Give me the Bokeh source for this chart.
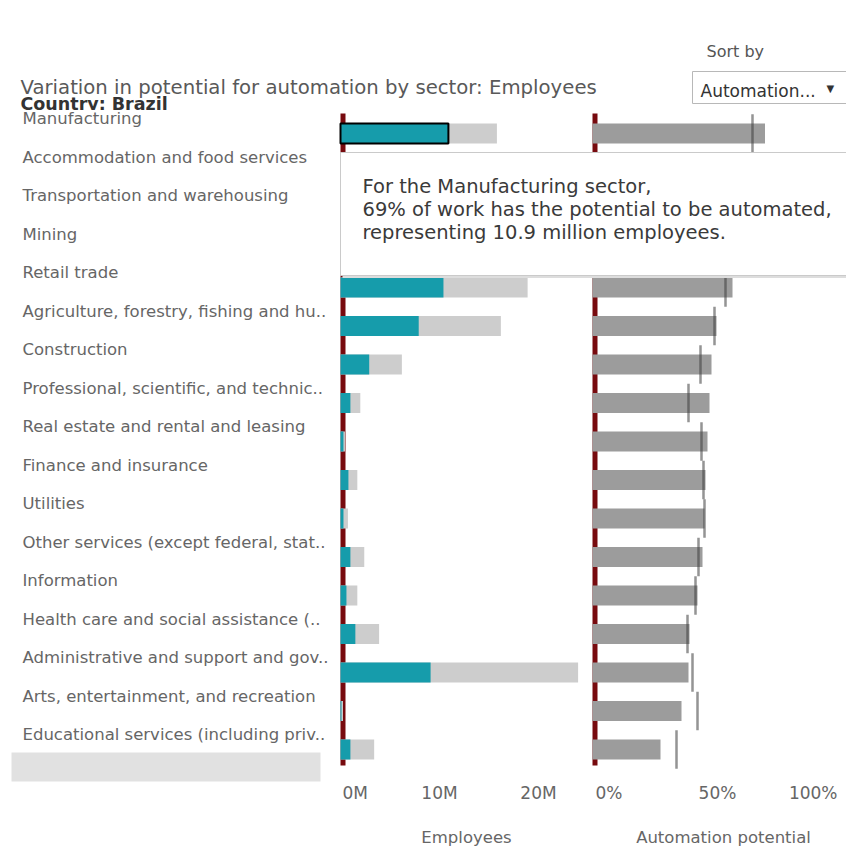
from bokeh.plotting import figure
from bokeh.models import Range1d, ColumnDataSource
from bokeh.embed import file_html
from bokeh.resources import INLINE
from bokeh.core.properties import value

# ---------------- data ----------------
title_text = "Variation in potential for automation by sector: Employees"
country_text = "Country: Brazil"
sort_label = "Sort by"
sort_choice = "Automation..."
tooltip_lines = [
    "For the Manufacturing sector,",
    "69% of work has the potential to be automated,",
    "representing 10.9 million employees.",
]
highlighted = "Manufacturing"

sectors = [
    "Manufacturing",
    "Accommodation and food services",
    "Transportation and warehousing",
    "Mining",
    "Retail trade",
    "Agriculture, forestry, fishing and hu..",
    "Construction",
    "Professional, scientific, and technic..",
    "Real estate and rental and leasing",
    "Finance and insurance",
    "Utilities",
    "Other services (except federal, stat..",
    "Information",
    "Health care and social assistance (..",
    "Administrative and support and gov..",
    "Arts, entertainment, and recreation",
    "Educational services (including priv..",
]
# employees, millions
employees_total = [15.8, 5.0, 4.5, 0.4, 18.9, 16.2, 6.2, 2.0, 0.45, 1.7, 0.75, 2.4, 1.7, 3.9, 24.0, 0.25, 3.4]
employees_automatable = [10.9, 3.1, 2.7, 0.23, 10.4, 7.9, 2.9, 1.0, 0.3, 0.8, 0.3, 1.0, 0.6, 1.5, 9.1, 0.1, 1.0]
# automation potential, %
automation_potential = [69, 63, 60, 57, 56, 49.6, 47.6, 46.8, 46.0, 45.2, 44.8, 44.0, 42.0, 38.8, 38.4, 35.6, 27.2]
benchmark_potential = [64, 60, 58, 55, 53.2, 48.8, 43.2, 38.4, 43.6, 44.4, 44.8, 42.4, 41.2, 38.0, 40.0, 42.0, 33.6]

employee_ticks = [0, 10, 20]
employee_tick_labels = ["0M", "10M", "20M"]
automation_ticks = [0, 50, 100]
automation_tick_labels = ["0%", "50%", "100%"]
employees_title = "Employees"
automation_title = "Automation potential"

# ---------------- layout constants (pixels) ----------------
W, H = 846, 850
ROW0 = 133.0          # centre of first row
ROW_H = 38.5
EMP_ZERO, EMP_PX = 340.0, 9.9
AUTO_ZERO, AUTO_PX = 592.0, 2.5
FONT = value("DejaVu Sans")

TEAL = "#169cab"
LIGHT = "#cdcdcd"
GREY = "#9c9c9c"
MAROON = "#770a0e"
LABEL_C = "#666666"

rows = list(range(len(sectors)))
src = ColumnDataSource(dict(
    row=rows,
    sector=sectors,
    total=employees_total,
    auto_emp=employees_automatable,
    pot=automation_potential,
    bench=benchmark_potential,
    outline=[1.0 if s == highlighted else 0.0 for s in sectors],
))

p = figure(
    width=W, height=H,
    x_range=Range1d(-EMP_ZERO / EMP_PX, (W - EMP_ZERO) / EMP_PX),
    y_range=Range1d((H - ROW0) / ROW_H, -ROW0 / ROW_H),
    output_backend="svg", toolbar_location=None,
    x_axis_location=None, y_axis_location=None,
    min_border=0,
)
p.extra_x_ranges = {
    "auto": Range1d(-AUTO_ZERO / AUTO_PX, (W - AUTO_ZERO) / AUTO_PX),
    "px": Range1d(0, W),
}
p.extra_y_ranges = {"px": Range1d(H, 0)}
p.outline_line_color = None
p.grid.visible = False
p.background_fill_color = "white"
p.border_fill_color = "white"

def txt(x, y, t, size, color, **kw):
    p.text(x=x, y=y, text=t, x_range_name="px", y_range_name="px",
           text_font=FONT, text_font_size=size, text_color=color,
           text_baseline="alphabetic", **kw)

# ---- title block ----
txt([20], [87], [title_text], "19.7px", "#595959")
txt([20], [103], [country_text], "17.5px", "#333333", text_font_style="bold")
p.quad(left=[0], right=[330], top=[109.5], bottom=[115], x_range_name="px", y_range_name="px",
       fill_color="white", line_color=None)

# sort-by control
txt([706], [51], [sort_label], "16px", "#555555")
p.quad(left=[692], right=[860], top=[71], bottom=[103], x_range_name="px", y_range_name="px",
       fill_color="white", line_color="#b8b8b8", line_width=1)
txt([700], [90], [sort_choice], "17px", "#333333")
txt([826], [88], ["\u25BC"], "10px", "#333333")

# ---- sector labels ----
p.text(x=22, y="row", text="sector", source=src, x_range_name="px",
       text_font=FONT, text_font_size="16.5px", text_color=LABEL_C,
       text_baseline="alphabetic", y_offset=-15)
p.quad(left=[11], right=[320], top=[752], bottom=[781], x_range_name="px", y_range_name="px",
       fill_color="#e1e1e1", line_color=None)

# ---- zero lines (maroon) ----
p.quad(left=[0], right=[5 / EMP_PX], top=[113], bottom=[765], y_range_name="px",
       fill_color=MAROON, line_color=None)
p.quad(left=[0], right=[5 / AUTO_PX], top=[113], bottom=[765], x_range_name="auto", y_range_name="px",
       fill_color=MAROON, line_color=None)

# ---- employees panel ----
p.hbar(y="row", left=0, right="total", height=0.52, source=src,
       fill_color=LIGHT, line_color=None)
p.hbar(y="row", left=0, right="auto_emp", height=0.52, source=src,
       fill_color=TEAL, line_color="black", line_width=2, line_alpha="outline")

# ---- automation panel ----
p.hbar(y="row", left=0, right="pot", height=0.52, source=src, x_range_name="auto",
       fill_color=GREY, line_color=None)
p.rect(x="bench", y="row", width=2.5, width_units="screen", height=1.0, source=src,
       x_range_name="auto", fill_color="#3c3c3c", fill_alpha=0.55, line_color=None)

# ---- tooltip ----
p.quad(left=[342], right=[870], top=[154], bottom=[277.5], x_range_name="px", y_range_name="px",
       fill_color="#dddddd", line_color=None)
p.quad(left=[340], right=[868], top=[152], bottom=[275], x_range_name="px", y_range_name="px",
       fill_color="white", line_color="#cacaca", line_width=1)
txt([362, 362, 362], [186, 209, 232], tooltip_lines, "19.5px", "#3a3a3a")

# ---- axis tick labels (placed through the data scales) ----
emp_ticks_src = ColumnDataSource(dict(x=employee_ticks, t=employee_tick_labels,
                                      align=["left", "center", "center"], dx=[2, 0, 0]))
p.text(x="x", y=792, text="t", source=emp_ticks_src, y_range_name="px",
       x_offset="dx", text_align="align", text_baseline="alphabetic",
       text_font=FONT, text_font_size="17px", text_color=LABEL_C)
auto_ticks_src = ColumnDataSource(dict(x=automation_ticks, t=automation_tick_labels,
                                       align=["left", "center", "right"], dx=[3, 0, -5]))
p.text(x="x", y=792, text="t", source=auto_ticks_src, x_range_name="auto", y_range_name="px",
       x_offset="dx", text_align="align", text_baseline="alphabetic",
       text_font=FONT, text_font_size="17px", text_color=LABEL_C)

# ---- axis titles ----
txt([466], [837], [employees_title], "16.5px", LABEL_C, text_align="center")
txt([723], [837], [automation_title], "16.5px", LABEL_C, text_align="center")

open("out.html", "w").write(file_html(p, INLINE))
